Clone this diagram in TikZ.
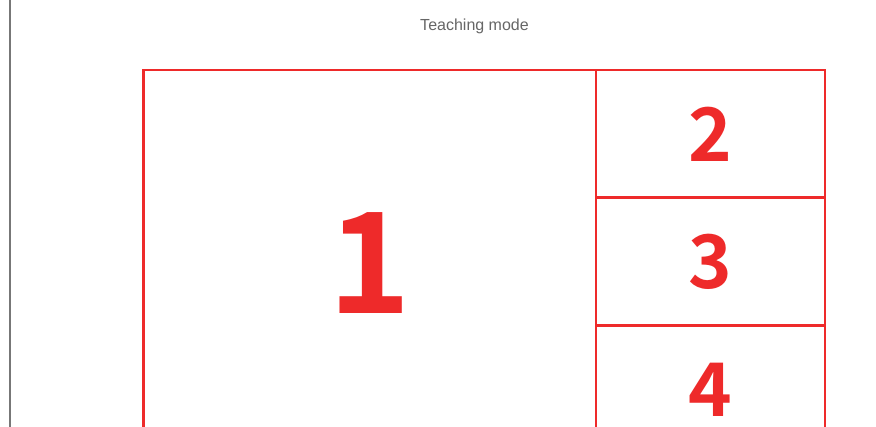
\documentclass[tikz,border=0pt]{standalone}
\usepackage{fontspec}
\newfontfamily\numfont{Noto Sans CJK SC Bold}
\newfontfamily\titlefont{Liberation Sans}
\definecolor{boxred}{HTML}{EE2A2A}
\definecolor{titlegray}{HTML}{666666}
\definecolor{railgray}{HTML}{777777}
\tikzset{
  frame/.style={draw=boxred, line width=2.5pt},
  bignum/.style={text=boxred, inner sep=0pt, font=\numfont\fontsize{140}{140}\selectfont},
  smallnum/.style={text=boxred, inner sep=0pt, font=\numfont\fontsize{74}{74}\selectfont},
  titletext/.style={text=titlegray, inner sep=0pt, font=\titlefont\fontsize{16}{16}\selectfont}
}
\begin{document}
\begin{tikzpicture}[x=1pt, y=-1pt]
\useasboundingbox (0,0) rectangle (876,427);
\fill[white] (0,0) rectangle (876,427);
\clip (0,0) rectangle (876,427);
\draw[railgray, line width=2pt] (10,-5) -- (10,432);
\node[titletext] (title) at (474.5,26) {Teaching mode};
\draw[frame] (143.5,70) rectangle (825,460);
\draw[frame] (596,70) -- (596,460);
\draw[frame] (596,197.5) -- (825,197.5);
\draw[frame] (596,325.5) -- (825,325.5);
\node[bignum] (n1) at (370,263.5) {1};
\node[smallnum] (n2) at (710.5,134) {2};
\node[smallnum] (n3) at (710.5,262) {3};
\node[smallnum] (n4) at (710.5,390) {4};
\end{tikzpicture}
\end{document}
